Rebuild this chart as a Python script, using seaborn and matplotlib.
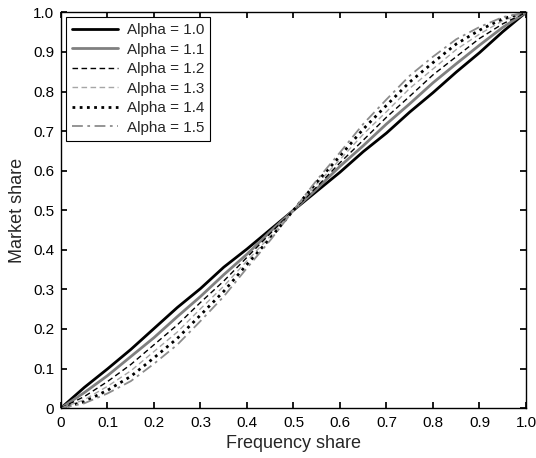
import numpy as np
import pandas as pd
import seaborn as sns
import matplotlib
matplotlib.use("Agg")
import matplotlib.pyplot as plt

# values
freq_share = [0.0, 0.05, 0.10, 0.15, 0.20, 0.25, 0.30, 0.35, 0.40, 0.45, 0.50,
              0.55, 0.60, 0.65, 0.70, 0.75, 0.80, 0.85, 0.90, 0.95, 1.0]

ms_a10 = [0.0, 0.052, 0.099, 0.148, 0.201, 0.254, 0.302, 0.356, 0.402, 0.451, 0.50,
          0.548, 0.596, 0.648, 0.695, 0.748, 0.797, 0.849, 0.898, 0.951, 1.0]
ms_a11 = [0.0, 0.039, 0.082, 0.130, 0.178, 0.231, 0.282, 0.337, 0.389, 0.446, 0.50,
          0.554, 0.611, 0.663, 0.718, 0.769, 0.822, 0.870, 0.917, 0.962, 1.0]
ms_a12 = [0.0, 0.029, 0.067, 0.110, 0.160, 0.210, 0.267, 0.321, 0.381, 0.441, 0.50,
          0.559, 0.620, 0.677, 0.735, 0.788, 0.842, 0.888, 0.934, 0.971, 1.0]
ms_a13 = [0.0, 0.021, 0.055, 0.094, 0.143, 0.192, 0.251, 0.308, 0.372, 0.434, 0.50,
          0.566, 0.628, 0.692, 0.749, 0.808, 0.857, 0.906, 0.945, 0.979, 1.0]
ms_a14 = [0.0, 0.016, 0.045, 0.080, 0.127, 0.176, 0.235, 0.295, 0.363, 0.429, 0.50,
          0.571, 0.637, 0.705, 0.765, 0.824, 0.873, 0.920, 0.955, 0.984, 1.0]
ms_a15 = [0.0, 0.012, 0.037, 0.068, 0.112, 0.160, 0.220, 0.282, 0.354, 0.424, 0.50,
          0.576, 0.646, 0.718, 0.780, 0.840, 0.888, 0.932, 0.963, 0.988, 1.0]

labels = ["Alpha = 1.0", "Alpha = 1.1", "Alpha = 1.2",
          "Alpha = 1.3", "Alpha = 1.4", "Alpha = 1.5"]
series = [ms_a10, ms_a11, ms_a12, ms_a13, ms_a14, ms_a15]

styles = [
    dict(color="black", linestyle="-", linewidth=2.0),
    dict(color="#808080", linestyle="-", linewidth=2.0),
    dict(color="black", linestyle=(0, (4, 2.5)), linewidth=1.0),
    dict(color="#a6a6a6", linestyle=(0, (4, 2.5)), linewidth=1.0),
    dict(color="black", linestyle=(0, (1, 1.6)), linewidth=2.0),
    dict(color="#8c8c8c", linestyle=(0, (6, 2.5, 1.5, 2.5)), linewidth=1.3),
]

rows = []
for lab, ms in zip(labels, series):
    for f, m in zip(freq_share, ms):
        rows.append({"Frequency share": f, "Market share": m, "series": lab})
data = pd.DataFrame(rows)

sns.set_theme(style="ticks", rc={
    "xtick.direction": "in", "ytick.direction": "in",
    "xtick.top": True, "ytick.right": True,
    "xtick.major.size": 4, "ytick.major.size": 4,
    "axes.edgecolor": "black", "axes.linewidth": 1.0,
})
plt.rcParams["font.family"] = ["Liberation Sans", "DejaVu Sans"]

fig = plt.figure(figsize=(5.36, 4.58), dpi=100)
ax = fig.add_axes([0.1138, 0.109, 0.8675, 0.864])

for lab, st in zip(labels, styles):
    sub = data[data["series"] == lab]
    sns.lineplot(x="Frequency share", y="Market share", data=sub, ax=ax,
                 label=lab, **st)

ax.set_xlim(0, 1)
ax.set_ylim(0, 1)
ticks = np.round(np.arange(0, 1.01, 0.1), 1)
ticklabels = ["0"] + ["%.1f" % t for t in ticks[1:]]
ax.set_xticks(ticks)
ax.set_xticklabels(ticklabels, fontsize=11)
ax.set_yticks(ticks)
ax.set_yticklabels(ticklabels, fontsize=11)
ax.tick_params(axis="x", colors="black", pad=6)
ax.tick_params(axis="y", colors="black", pad=5)
ax.set_xlabel("Frequency share", fontsize=13, labelpad=3)
ax.set_ylabel("Market share", fontsize=13, labelpad=5)

leg = ax.legend(loc="upper left", fontsize=11, frameon=True, fancybox=False,
                edgecolor="black", borderaxespad=0.3, handlelength=3.0,
                labelspacing=0.36, borderpad=0.4, handletextpad=0.6)
leg.get_frame().set_linewidth(0.8)
leg.get_frame().set_alpha(1.0)

plt.savefig("out.png", dpi=100)
